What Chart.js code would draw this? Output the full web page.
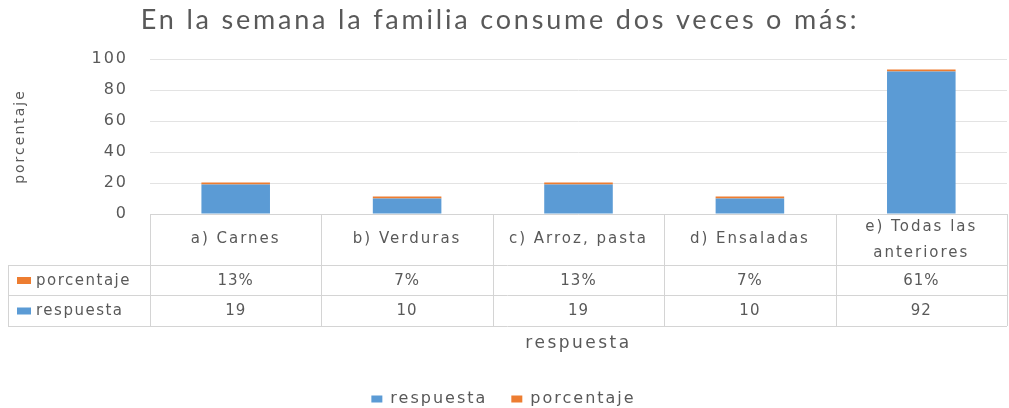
<!DOCTYPE html>
<html>
<head>
<meta charset="utf-8">
<script src="https://cdn.jsdelivr.net/npm/chart.js@4/dist/chart.umd.min.js"></script>
<style>
  html, body { margin: 0; padding: 0; background: #fff; }
  #wrap { width: 1009px; height: 408px; }
</style>
</head>
<body>
<div id="wrap"><canvas id="chart"></canvas></div>
<script>
    "use strict";

    const titleText = "En la semana la familia consume dos veces o más:";
    const categories = ["a) Carnes", "b) Verduras", "c) Arroz, pasta", "d) Ensaladas", ["e) Todas las", "anteriores"]];
    const respuesta  = [19, 10, 19, 10, 92];
    const porcentaje = [0.13, 0.07, 0.13, 0.07, 0.61];
    const yTicks     = [0, 20, 40, 60, 80, 100];

    const BLUE   = "#5b9bd5";
    const ORANGE = "#ed7d31";
    const TEXT   = "#595959";
    const LINE   = "#d4d4d4";
    const FONT   = "'DejaVu Sans', sans-serif";

    function pct(v) { return Math.round(v * 100) + "%"; }

    function spacedText(ctx, str, x, y, font, spacing, align) {
        ctx.save();
        ctx.font = font;
        ctx.letterSpacing = spacing + "px";
        ctx.fillStyle = TEXT;
        ctx.textAlign = align || "center";
        ctx.textBaseline = "middle";
        ctx.fillText(str, x, y);
        ctx.restore();
    }

    const spacing = {
        id: "spacing",
        beforeLayout(chart) { chart.ctx.letterSpacing = "2px"; },
        beforeDraw(chart)   { chart.ctx.letterSpacing = "2px"; }
    };

    const dataTable = {
        id: "dataTable",
        afterDraw(chart) {
            const ctx  = chart.ctx;
            const x    = chart.scales.x;
            const area = chart.chartArea;
            const half = (x.getPixelForValue(1) - x.getPixelForValue(0)) / 2;
            const top  = Math.round(area.bottom);
            const r1 = top + 51, r2 = top + 81, r3 = top + 112;
            const left = 8;
            const right = x.getPixelForValue(categories.length - 1) + half;

            ctx.save();
            ctx.letterSpacing = "0px";
            ctx.strokeStyle = LINE;
            ctx.lineWidth = 1;
            ctx.beginPath();
            ctx.moveTo(area.left, top + 0.5); ctx.lineTo(right, top + 0.5);
            [r1, r2, r3].forEach(r => { ctx.moveTo(left, r + 0.5); ctx.lineTo(right, r + 0.5); });
            for (let i = 0; i <= categories.length; i++) {
                const xv = Math.round(x.getPixelForValue(0) - half + i * 2 * half) + 0.5;
                ctx.moveTo(xv, top); ctx.lineTo(xv, r3);
            }
            ctx.moveTo(left + 0.5, r1); ctx.lineTo(left + 0.5, r3);
            ctx.stroke();
            ctx.restore();

            const cellFont = "15px " + FONT;
            categories.forEach((c, i) => {
                const cx = x.getPixelForValue(i);
                if (Array.isArray(c)) {
                    spacedText(ctx, c[0], cx, top + 13, cellFont, 2);
                    spacedText(ctx, c[1], cx, top + 39, cellFont, 2);
                } else {
                    spacedText(ctx, c, cx, top + 25, cellFont, 2);
                }
                spacedText(ctx, pct(porcentaje[i]), cx, (r1 + r2) / 2 + 1, cellFont, 1);
                spacedText(ctx, String(respuesta[i]), cx, (r2 + r3) / 2 + 1, cellFont, 1);
            });

            // legend keys in the row headers
            ctx.save();
            ctx.fillStyle = ORANGE;
            ctx.fillRect(17, (r1 + r2) / 2 - 3, 14, 7);
            ctx.fillStyle = BLUE;
            ctx.fillRect(17, (r2 + r3) / 2 - 3, 14, 7);
            ctx.restore();
            spacedText(ctx, "porcentaje", 36, (r1 + r2) / 2 + 1, cellFont, 1.5, "left");
            spacedText(ctx, "respuesta", 36, (r2 + r3) / 2 + 1, cellFont, 1.5, "left");

            // axis title and chart title
            spacedText(ctx, "respuesta", (area.left + right) / 2, 344, "17px " + FONT, 2.5);
            spacedText(ctx, titleText, 500, 20, "27px Lato, sans-serif", 2.8);
        }
    };

    new Chart(document.getElementById("chart"), {
        type: "bar",
        data: {
            labels: categories,
            datasets: [
                {
                    label: "respuesta",
                    data: respuesta,
                    backgroundColor: BLUE,
                    barPercentage: 0.4,
                    categoryPercentage: 1
                },
                {
                    label: "porcentaje",
                    data: porcentaje,
                    backgroundColor: ORANGE,
                    barPercentage: 0.4,
                    categoryPercentage: 1,
                    minBarLength: 2
                }
            ]
        },
        options: {
            responsive: true,
            maintainAspectRatio: false,
            animation: false,
            layout: { padding: { top: 59, right: 2, left: 0, bottom: -9 } },
            plugins: {
                title: { display: false },
                tooltip: { enabled: false },
                legend: {
                    position: "bottom",
                    labels: {
                        color: TEXT,
                        font: { family: FONT, size: 16 },
                        boxWidth: 11,
                        boxHeight: 7,
                        padding: 24
                    }
                }
            },
            scales: {
                x: {
                    stacked: true,
                    grid: { display: false },
                    border: { display: false },
                    ticks: { display: false },
                    afterFit: scale => { scale.height = 153; }
                },
                y: {
                    stacked: true,
                    min: 0,
                    max: 100,
                    afterBuildTicks: scale => { scale.ticks = yTicks.map(v => ({ value: v })); },
                    afterFit: scale => { scale.width = 150; },
                    grid: { color: "#e3e3e3", drawTicks: false },
                    border: { display: false },
                    ticks: {
                        color: TEXT,
                        font: { family: FONT, size: 16 },
                        padding: 22
                    },
                    title: {
                        display: true,
                        text: "porcentaje",
                        color: TEXT,
                        font: { family: FONT, size: 14 },
                        padding: { top: 12, bottom: 0 }
                    }
                }
            }
        },
        plugins: [spacing, dataTable]
    });
</script>
</body>
</html>
